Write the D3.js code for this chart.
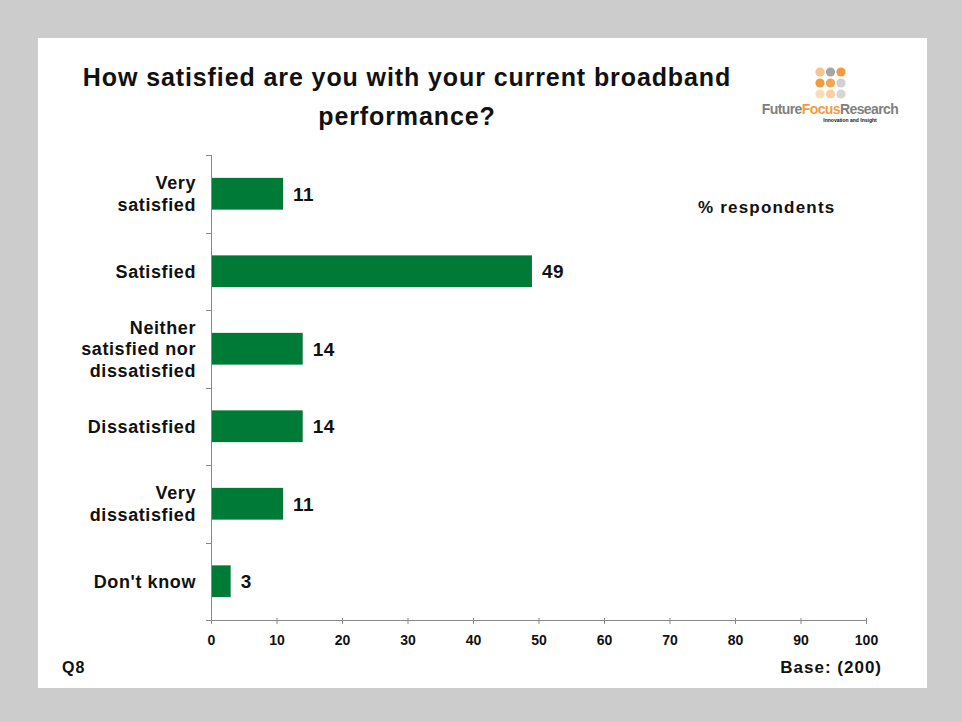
<!DOCTYPE html>
<html>
<head>
<meta charset="utf-8">
<script src="https://cdn.jsdelivr.net/npm/d3@7"></script>
<style>
  html, body { margin: 0; padding: 0; background: #cccccc; }
  svg { display: block; }
  text { font-family: "Liberation Sans", Arial, sans-serif; font-weight: bold; fill: #111; }
</style>
</head>
<body>
<svg id="chart" width="962" height="722"></svg>
<script>
// Survey responses (% respondents)
const categories = [
  "Very satisfied",
  "Satisfied",
  "Neither satisfied nor dissatisfied",
  "Dissatisfied",
  "Very dissatisfied",
  "Don't know"
];
// Wrapped label lines per category
const categoryLines = [
  ["Very", "satisfied"],
  ["Satisfied"],
  ["Neither", "satisfied nor", "dissatisfied"],
  ["Dissatisfied"],
  ["Very", "dissatisfied"],
  ["Don't know"]
];
const values = [11, 49, 14, 14, 11, 3];
const xTicks = [0, 10, 20, 30, 40, 50, 60, 70, 80, 90, 100];
const titleLines = ["How satisfied are you with your current broadband", "performance?"];

const svg = d3.select("#chart");

// white slide panel
svg.append("rect")
  .attr("x", 38).attr("y", 38)
  .attr("width", 889).attr("height", 650)
  .attr("fill", "#ffffff");

// title
const title = svg.append("text")
  .attr("text-anchor", "middle")
  .attr("font-size", 25)
  .attr("letter-spacing", 0.9);
titleLines.forEach((t, i) => {
  title.append("tspan").attr("x", 407).attr("y", 86 + i * 39).text(t);
});

// plot area
const plotLeft = 211, plotRight = 866, plotTop = 155, plotBottom = 620;

const x = d3.scaleLinear().domain([0, 100]).range([plotLeft, plotRight]);
const y = d3.scaleBand().domain(categories).range([plotTop, plotBottom])
  .paddingInner(0.59).paddingOuter(0.295);
const yOuter = d3.scaleBand().domain(categories).range([plotTop, plotBottom]);

// bars
svg.append("g").selectAll("rect")
  .data(categories)
  .join("rect")
  .attr("x", x(0))
  .attr("y", d => y(d))
  .attr("width", (d, i) => x(values[i]) - x(0))
  .attr("height", y.bandwidth())
  .attr("fill", "#007a37");

// value labels
svg.append("g").selectAll("text")
  .data(categories)
  .join("text")
  .attr("x", (d, i) => x(values[i]) + 10)
  .attr("y", d => y(d) + y.bandwidth() / 2)
  .attr("dy", "0.36em")
  .attr("font-size", 19)
  .attr("letter-spacing", 0.5)
  .text((d, i) => values[i]);

// y axis: line and category boundary ticks
const axisColor = "#888888";
const yAxis = svg.append("g");
yAxis.append("line")
  .attr("x1", plotLeft + 0.5).attr("x2", plotLeft + 0.5)
  .attr("y1", plotTop).attr("y2", plotBottom)
  .attr("stroke", axisColor);
const boundaries = categories.map(c => yOuter(c)).concat([plotBottom]);
yAxis.selectAll("line.tick")
  .data(boundaries)
  .join("line")
  .attr("class", "tick")
  .attr("x1", plotLeft - 5).attr("x2", plotLeft + 0.5)
  .attr("y1", d => Math.round(d) + 0.5).attr("y2", d => Math.round(d) + 0.5)
  .attr("stroke", axisColor);

// category labels
const labelG = svg.append("g");
categories.forEach((c, i) => {
  const lines = categoryLines[i];
  const lh = 21.5;
  const cy = yOuter(c) + yOuter.bandwidth() / 2;
  const t = labelG.append("text")
    .attr("text-anchor", "end")
    .attr("font-size", 18)
    .attr("letter-spacing", 0.6);
  lines.forEach((ln, j) => {
    t.append("tspan")
      .attr("x", 196)
      .attr("y", cy + (j - (lines.length - 1) / 2) * lh)
      .attr("dy", "0.36em")
      .text(ln);
  });
});

// x axis
const xAxis = d3.axisBottom(x).tickValues(xTicks).tickSizeInner(4).tickSizeOuter(0).tickPadding(11);
const xg = svg.append("g")
  .attr("transform", `translate(0,${plotBottom})`)
  .call(xAxis);
xg.select(".domain").attr("stroke", axisColor);
xg.selectAll(".tick line").attr("stroke", axisColor).attr("y1", -2).attr("y2", 4);
xg.selectAll(".tick text")
  .attr("font-size", 14)
  .attr("font-family", "Liberation Sans, Arial, sans-serif")
  .attr("font-weight", "bold")
  .attr("fill", "#111");

// side notes
svg.append("text").attr("x", 698).attr("y", 213).attr("font-size", 17).attr("letter-spacing", 1.2).text("% respondents");
svg.append("text").attr("x", 62).attr("y", 673).attr("font-size", 16).attr("letter-spacing", 1).text("Q8");
svg.append("text").attr("x", 882).attr("y", 673).attr("text-anchor", "end").attr("font-size", 17).attr("letter-spacing", 1).text("Base: (200)");

// logo: dot grid + wordmark
const dotColors = [
  ["#f8c48c", "#a6a6a6", "#f39b3c"],
  ["#f39b3c", "#f5a54e", "#d0d0d0"],
  ["#fbdcb8", "#f9d0a4", "#d6d6d6"]
];
const logo = svg.append("g");
dotColors.forEach((row, r) => row.forEach((col, c) => {
  logo.append("circle")
    .attr("cx", 820 + c * 10.5)
    .attr("cy", 72 + r * 11)
    .attr("r", 4.6)
    .attr("fill", col);
}));
const word = logo.append("text")
  .attr("x", 830).attr("y", 114)
  .attr("text-anchor", "middle")
  .attr("font-size", 14)
  .attr("font-weight", "normal")
  .attr("letter-spacing", "-0.6");
word.append("tspan").attr("fill", "#7f7f7f").text("Future");
word.append("tspan").attr("fill", "#f39b3c").attr("font-weight", "bold").text("Focus");
word.append("tspan").attr("fill", "#7f7f7f").text("Research");
logo.append("text")
  .attr("x", 850).attr("y", 122)
  .attr("text-anchor", "middle")
  .attr("font-size", 5)
  .attr("font-weight", "normal")
  .attr("fill", "#8a8a8a")
  .text("Innovation and Insight");
</script>
</body>
</html>
